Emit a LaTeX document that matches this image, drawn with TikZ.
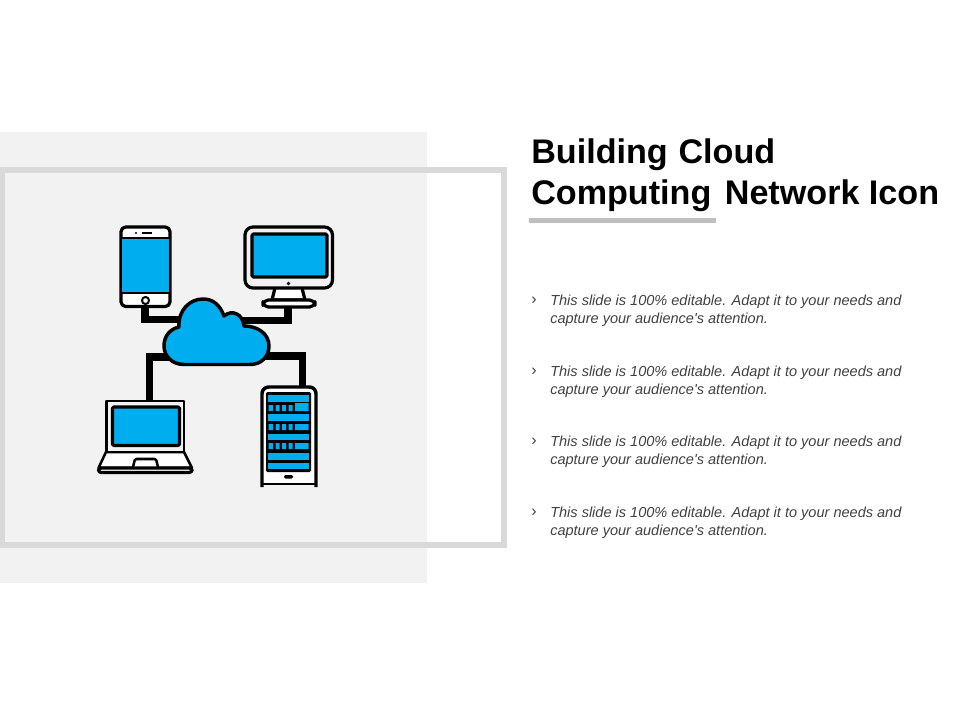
\documentclass[tikz,border=0pt]{standalone}
\usepackage{fontspec}
\setmainfont{Liberation Sans}[Ligatures=TeXOff]
\definecolor{panelgray}{HTML}{F2F2F2}
\definecolor{framegray}{HTML}{D9D9D9}
\definecolor{bargray}{HTML}{BFBFBF}
\definecolor{iconblue}{HTML}{00AEEF}
\definecolor{bodygray}{HTML}{404040}
\tikzset{
	iconline/.style={line width=2.4pt, color=black, line join=round},
	linkline/.style={line width=5.6pt, color=black},
	titletext/.style={anchor=north west, inner sep=0pt, align=left, font=\fontsize{25.6}{30.4}\selectfont\bfseries},
	bodytext/.style={anchor=north west, inner sep=0pt, align=left, color=bodygray, font=\fontsize{10.9}{13.5}\selectfont\itshape},
	tickmark/.style={anchor=north west, inner sep=0pt, color=bodygray, font=\fontsize{12}{13.5}\selectfont}
}

\begin{document}
\begin{tikzpicture}[x=0.75pt, y=-0.75pt]
	\useasboundingbox (0, 0) rectangle (960, 720);
	%%%%% BACKGROUND %%%%%
	\fill[panelgray] (0, 132) rectangle (427, 583);
	\draw[line width=4.4pt, color=framegray] (2.5, 170) rectangle (504, 545);

	%%%%% LINKS %%%%%
	\coordinate (phonePort) at (145, 306);
	\coordinate (monitorPort) at (288, 306);
	\coordinate (laptopPort) at (149.5, 401);
	\coordinate (serverPort) at (302.5, 387);
	\coordinate (cloudNW) at (185, 319.5);
	\coordinate (cloudNE) at (240, 320.5);
	\coordinate (cloudSW) at (175, 357);
	\coordinate (cloudSE) at (260, 356);
	\draw[linkline] (phonePort) |- (cloudNW);
	\draw[linkline] (monitorPort) |- (cloudNE);
	\draw[linkline] (laptopPort) |- (cloudSW);
	\draw[linkline] (serverPort) |- (cloudSE);

	%%%%% CLOUD %%%%%
	\draw[iconline, line width=2.6pt, fill=iconblue] (184, 364.5)
		.. controls (172, 364.5) and (164, 356) .. (164, 346)
		.. controls (164, 336) and (170, 329) .. (179, 327)
		.. controls (178, 310) and (190, 299) .. (203, 299)
		.. controls (213, 299) and (220, 305) .. (224, 316)
		.. controls (232, 309) and (243, 314) .. (244, 326)
		.. controls (258, 326) and (269, 334) .. (269, 346)
		.. controls (269, 357) and (261, 364.5) .. (250, 364.5)
		-- cycle;

	%%%%% PHONE %%%%%
	\draw[iconline, fill=white, rounded corners=3.5] (121, 227) rectangle (170, 306.5);
	\fill[iconblue] (122, 238) rectangle (169, 293);
	\draw[line width=1.2pt] (121, 238) -- (170, 238);
	\draw[line width=1.2pt] (121, 293) -- (170, 293);
	\fill (136, 233) circle (1.2);
	\draw[line width=1.3pt] (142, 233) -- (152, 233);
	\draw[line width=1.5pt, fill=white] (145.5, 300.5) circle (3.5);

	%%%%% MONITOR %%%%%
	\draw[iconline, fill=white] (275, 288) -- (272, 300) -- (305, 300) -- (302, 288);
	\draw[iconline, fill=panelgray, rounded corners=6] (245, 227) rectangle (332.5, 288);
	\draw[iconline, fill=iconblue, rounded corners=1] (252, 234) rectangle (327, 277);
	\fill (288.5, 283.5) circle (1.8);
	\draw[iconline, fill=white, rounded corners=4] (263, 300) rectangle (315, 307);

	%%%%% LAPTOP %%%%%
	\draw[iconline, line width=1.9pt, fill=white] (106, 452) -- (98.5, 468) -- (192, 468) -- (184, 452) -- cycle;
	\draw[iconline, line width=1.9pt, fill=panelgray] (106.5, 401) rectangle (184, 452);
	\draw[iconline, fill=iconblue, rounded corners=1] (112.5, 407) rectangle (179.5, 445.5);
	\draw[iconline, line width=1.9pt, fill=white, rounded corners=1] (133, 467) -- (135, 459) -- (156, 459) -- (158, 467);
	\draw[iconline, fill=white, rounded corners=2] (98.5, 468) rectangle (192, 472.5);

	%%%%% SERVER %%%%%
	\fill[white] (262, 387) rectangle (316, 484);
	\draw[iconline, line width=2.6pt, rounded corners=5] (262, 487) -- (262, 387) -- (316, 387) -- (316, 487);
	\draw[line width=0.8pt] (262, 484) -- (316, 484);
	\fill[black, rounded corners=1] (266, 392) rectangle (311, 472);
	\fill[iconblue] (268, 395) rectangle (308.5, 402);
	\fill[iconblue] (268.5, 405) rectangle (273, 411) (275.5, 405) rectangle (279.5, 411)
		(282, 405) rectangle (286, 411) (288.5, 405) rectangle (292.5, 411) (295, 403) rectangle (308.5, 411);
	\fill[iconblue] (268, 414) rectangle (308.5, 421);
	\fill[iconblue] (268.5, 424) rectangle (273, 430) (275.5, 424) rectangle (279.5, 430)
		(282, 424) rectangle (286, 430) (288.5, 424) rectangle (292.5, 430) (295, 424) rectangle (308.5, 430);
	\fill[iconblue] (268, 434) rectangle (308.5, 440);
	\fill[iconblue] (268.5, 443) rectangle (273, 449) (275.5, 443) rectangle (279.5, 449)
		(282, 443) rectangle (286, 449) (288.5, 443) rectangle (292.5, 449) (295, 443) rectangle (308.5, 449);
	\fill[iconblue] (268, 453) rectangle (308.5, 460);
	\fill[iconblue] (268, 463) rectangle (308.5, 469);
	\fill[black, rounded corners=1] (284, 475) rectangle (293, 478.5);

	%%%%% TEXT %%%%%
	\node[titletext] (titleText) at (531, 138.5) {Building\hspace{1pt} Cloud\\[0pt]Computing\hspace{3pt} Network Icon};
	\fill[bargray] (529, 218) rectangle (716, 223);

	\node[tickmark] (tickA) at (531, 297) {›};
	\node[bodytext] (bodyA) at (550, 294.5) {This slide is 100\% editable.  Adapt it to your needs and\\capture your audience's attention.};
	\node[tickmark] (tickB) at (531, 367.5) {›};
	\node[bodytext] (bodyB) at (550, 365.3) {This slide is 100\% editable.  Adapt it to your needs and\\capture your audience's attention.};
	\node[tickmark] (tickC) at (531, 438) {›};
	\node[bodytext] (bodyC) at (550, 435.7) {This slide is 100\% editable.  Adapt it to your needs and\\capture your audience's attention.};
	\node[tickmark] (tickD) at (531, 508.5) {›};
	\node[bodytext] (bodyD) at (550, 506.5) {This slide is 100\% editable.  Adapt it to your needs and\\capture your audience's attention.};
\end{tikzpicture}
\end{document}
